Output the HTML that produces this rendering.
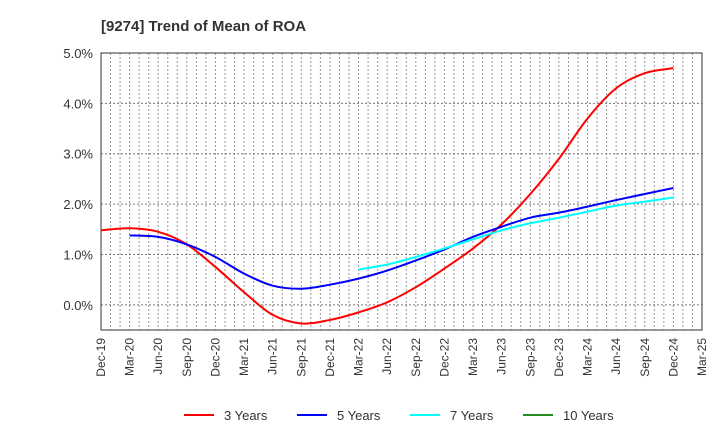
<!DOCTYPE html>
<html><head><meta charset="utf-8"><style>
body{margin:0;background:#fff;font-family:"Liberation Sans",sans-serif;}
svg text{font-family:"Liberation Sans",sans-serif;fill:#333;}
</style></head><body>
<svg id="chart" width="720" height="440" xmlns="http://www.w3.org/2000/svg">
<text x="101" y="31" font-size="15" font-weight="bold">[9274]  Trend of Mean of ROA</text>
<g id="grid"></g><g id="axes"></g><g id="series"></g><g id="legend"></g>
</svg>
<script>
const xLabels=["Dec-19","Mar-20","Jun-20","Sep-20","Dec-20","Mar-21","Jun-21","Sep-21","Dec-21","Mar-22","Jun-22","Sep-22","Dec-22","Mar-23","Jun-23","Sep-23","Dec-23","Mar-24","Jun-24","Sep-24","Dec-24","Mar-25"];
const yTicks=[0,1,2,3,4,5];
const s3=[1.48,1.52,1.45,1.2,0.75,0.25,-0.2,-0.37,-0.3,-0.15,0.05,0.35,0.72,1.12,1.6,2.2,2.9,3.7,4.3,4.6,4.7];
const s5=[null,1.38,1.35,1.2,0.95,0.62,0.38,0.32,0.4,0.52,0.68,0.88,1.1,1.35,1.55,1.73,1.83,1.95,2.08,2.2,2.32];
const s7=[null,null,null,null,null,null,null,null,null,0.7,0.8,0.95,1.12,1.3,1.48,1.62,1.73,1.85,1.97,2.05,2.13];
const s10=[];
const L=101,R=702,T=53,B=330,yMin=-0.5,yMax=5;
const NS="http://www.w3.org/2000/svg";
const X=i=>L+(R-L)*(i*3)/63;
const Xm=m=>L+(R-L)*m/63;
const Y=v=>B-(v-yMin)/(yMax-yMin)*(B-T);
function mk(t,a,p){const e=document.createElementNS(NS,t);for(const k in a)e.setAttribute(k,a[k]);p.appendChild(e);return e;}
const grid=document.getElementById('grid'),axes=document.getElementById('axes'),ser=document.getElementById('series'),leg=document.getElementById('legend');
for(let m=1;m<63;m++){const l=mk('line',{x1:Xm(m),x2:Xm(m),y1:T,y2:B,stroke:'#999','stroke-width':1,'stroke-dasharray':'2,2'},grid);

}
yTicks.forEach(v=>{const l=mk('line',{x1:L,x2:R,y1:Y(v),y2:Y(v),stroke:'#777','stroke-width':1,'stroke-dasharray':'2,2'},grid);


const t=mk('text',{x:L-8,y:Y(v)+5,'font-size':13,'text-anchor':'end'},axes);t.textContent=v.toFixed(1)+'%';

});
const fr=mk('rect',{x:L,y:T,width:R-L,height:B-T,fill:'none',stroke:'#333','stroke-width':1},axes);


xLabels.forEach((s,i)=>{const t=mk('text',{transform:`translate(${X(i)+4},${B+8}) rotate(-90)`,'font-size':12,'text-anchor':'end'},axes);t.textContent=s;

});
function path(arr,color,name){const pts=[];arr.forEach((v,i)=>{if(v!==null&&v!==undefined)pts.push([X(i),Y(v)]);});if(pts.length<2)return;
let d=`M${pts[0][0]},${pts[0][1]}`;for(let i=0;i<pts.length-1;i++){const p0=pts[i-1]||pts[i],p1=pts[i],p2=pts[i+1],p3=pts[i+2]||p2;
d+=` C${p1[0]+(p2[0]-p0[0])/6},${p1[1]+(p2[1]-p0[1])/6} ${p2[0]-(p3[0]-p1[0])/6},${p2[1]-(p3[1]-p1[1])/6} ${p2[0]},${p2[1]}`;}
const e=mk('path',{d:d,fill:'none',stroke:color,'stroke-width':2},ser);

}
path(s3,'#ff0000','line-3-years');path(s5,'#0000ff','line-5-years');path(s7,'#00ffff','line-7-years');path(s10,'#228b22','line-10-years');
[['3 Years','#ff0000',184],['5 Years','#0000ff',297],['7 Years','#00ffff',410],['10 Years','#228b22',523]].forEach(([n,c,x])=>{
const g=mk('g',{},leg);


mk('line',{x1:x,x2:x+30,y1:415,y2:415,stroke:c,'stroke-width':2},g);
const t=mk('text',{x:x+40,y:420,'font-size':13},g);t.textContent=n;});
</script>
</body></html>
